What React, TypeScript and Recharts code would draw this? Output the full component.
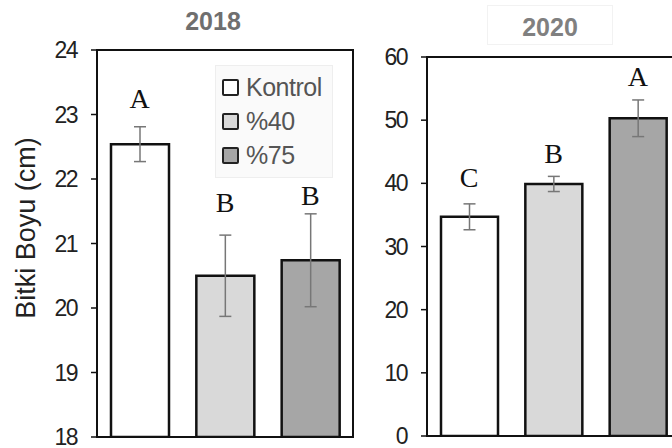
import {
  ComposedChart,
  Bar,
  Cell,
  ErrorBar,
  Scatter,
  XAxis,
  YAxis,
  Legend,
  ReferenceArea,
} from "recharts";

// treatments and their bar fills
const categories = ["Kontrol", "%40", "%75"];
const fills = ["#ffffff", "#d9d9d9", "#a6a6a6"];

// 2018 season
const height2018 = [22.54, 20.5, 20.74];
const err2018 = [0.27, 0.63, 0.72];
const letters2018 = ["A", "B", "B"];
const letterY2018 = [23.1, 21.49, 21.6];
const ticks2018 = [18, 19, 20, 21, 22, 23, 24];

// 2020 season
const height2020 = [34.7, 39.9, 50.3];
const err2020 = [2.05, 1.2, 2.9];
const letters2020 = ["C", "B", "A"];
const letterY2020 = [39.4, 43.2, 55.4];
const ticks2020 = [0, 10, 20, 30, 40, 50, 60];

const SANS = "'Liberation Sans', Arial, sans-serif";
const SERIF = "'Liberation Serif', 'Times New Roman', serif";

const build = (vals: number[], errs: number[], letters: string[], ly: number[]) =>
  categories.map((name, i) => ({
    name,
    value: vals[i],
    err: errs[i],
    letter: letters[i],
    letterY: ly[i],
  }));

const data2018 = build(height2018, err2018, letters2018, letterY2018);
const data2020 = build(height2020, err2020, letters2020, letterY2020);

const tickStyle = {
  fontSize: 23,
  fontFamily: SANS,
  fill: "#222",
  letterSpacing: -1.5,
};

const LetterShape = (props: any) => (
  <text
    x={props.cx}
    y={props.cy}
    textAnchor="middle"
    fontFamily={SERIF}
    fontSize={28}
    fill="#111"
  >
    {props.payload.letter}
  </text>
);

const LegendBox = () => (
  <div
    style={{
      width: 118,
      height: 113,
      background: "#fafafa",
      border: "1px solid #eeeeee",
      boxSizing: "border-box",
      paddingTop: 4,
      paddingLeft: 6,
    }}
  >
    {categories.map((c, i) => (
      <div
        key={c}
        style={{ display: "flex", alignItems: "center", height: 34 }}
      >
        <span
          style={{
            display: "inline-block",
            width: 13,
            height: 13,
            border: "2.5px solid #222",
            borderRadius: 2,
            background: fills[i],
            marginRight: 7,
          }}
        />
        <span style={{ fontFamily: SANS, fontSize: 25, color: "#555", letterSpacing: -0.5 }}>
          {c}
        </span>
      </div>
    ))}
  </div>
);

const YLabel = () => (
  <text
    x={35}
    y={228}
    transform="rotate(-90 35 228)"
    textAnchor="middle"
    fontFamily={SANS}
    fontSize={27}
    fill="#222"
  >
    Bitki Boyu (cm)
  </text>
);

type PanelProps = {
  data: any[];
  width: number;
  yWidth: number;
  top: number;
  bottom: number;
  right: number;
  domain: [number, number];
  ticks: number[];
  barSize: number;
  withLegend?: boolean;
  withLabel?: boolean;
};

function Panel(p: PanelProps) {
  return (
    <ComposedChart
      width={p.width}
      height={448}
      data={p.data}
      margin={{ top: p.top, right: p.right, bottom: p.bottom, left: 0 }}
    >
      <XAxis
        dataKey="name"
        height={0}
        tick={false}
        tickLine={false}
        axisLine={{ stroke: "#111", strokeWidth: 2 }}
      />
      <YAxis
        width={p.yWidth}
        domain={p.domain}
        ticks={p.ticks}
        interval={0}
        tickSize={6}
        tickMargin={14}
        tick={tickStyle}
        tickLine={{ stroke: "#111", strokeWidth: 1.5 }}
        axisLine={{ stroke: "#111", strokeWidth: 2 }}
        allowDataOverflow
        label={p.withLabel ? { content: () => <YLabel /> } : undefined}
      />
      {/* plot frame */}
      <ReferenceArea
        y1={p.domain[0]}
        y2={p.domain[1]}
        fill="none"
        stroke="#111"
        strokeWidth={2}
      />
      <Bar
        dataKey="value"
        barSize={p.barSize}
        stroke="#111"
        strokeWidth={2.5}
        isAnimationActive={false}
      >
        {p.data.map((d, i) => (
          <Cell key={d.name} fill={fills[i]} />
        ))}
        <ErrorBar
          dataKey="err"
          direction="y"
          width={6}
          stroke="#777"
          strokeWidth={1.5}
        />
      </Bar>
      <Scatter
        dataKey="letterY"
        shape={LetterShape}
        isAnimationActive={false}
      />
      {p.withLegend && (
        <Legend
          layout="vertical"
          align="center"
          verticalAlign="middle"
          content={() => <LegendBox />}
          wrapperStyle={{ left: 215, top: 65, width: 118, height: 113 }}
        />
      )}
    </ComposedChart>
  );
}

export default function App() {
  return (
    <div
      style={{
        position: "absolute",
        left: 0,
        top: 0,
        width: 672,
        height: 448,
        overflow: "hidden",
        background: "#fff",
      }}
    >
      <div style={{ position: "absolute", left: 0, top: 0 }}>
        <Panel
          data={data2018}
          width={360}
          yWidth={97}
          top={50}
          bottom={11}
          right={7}
          domain={[18, 24]}
          ticks={ticks2018}
          barSize={58}
          withLegend
          withLabel
        />
      </div>
      <div style={{ position: "absolute", left: 360, top: 0 }}>
        <Panel
          data={data2020}
          width={330}
          yWidth={67}
          top={57}
          bottom={12}
          right={10}
          domain={[0, 60]}
          ticks={ticks2020}
          barSize={57}
        />
      </div>
      <div
        style={{
          position: "absolute",
          left: 163,
          top: 7,
          width: 100,
          textAlign: "center",
          fontFamily: SANS,
          fontWeight: "bold",
          fontSize: 25,
          color: "#6f6f6f",
        }}
      >
        2018
      </div>
      <div
        style={{
          position: "absolute",
          left: 487,
          top: 5,
          width: 126,
          height: 40,
          lineHeight: "42px",
          border: "1px solid #f2f2f2",
          boxSizing: "border-box",
          textAlign: "center",
          fontFamily: SANS,
          fontWeight: "bold",
          fontSize: 25,
          color: "#808080",
        }}
      >
        2020
      </div>
    </div>
  );
}
